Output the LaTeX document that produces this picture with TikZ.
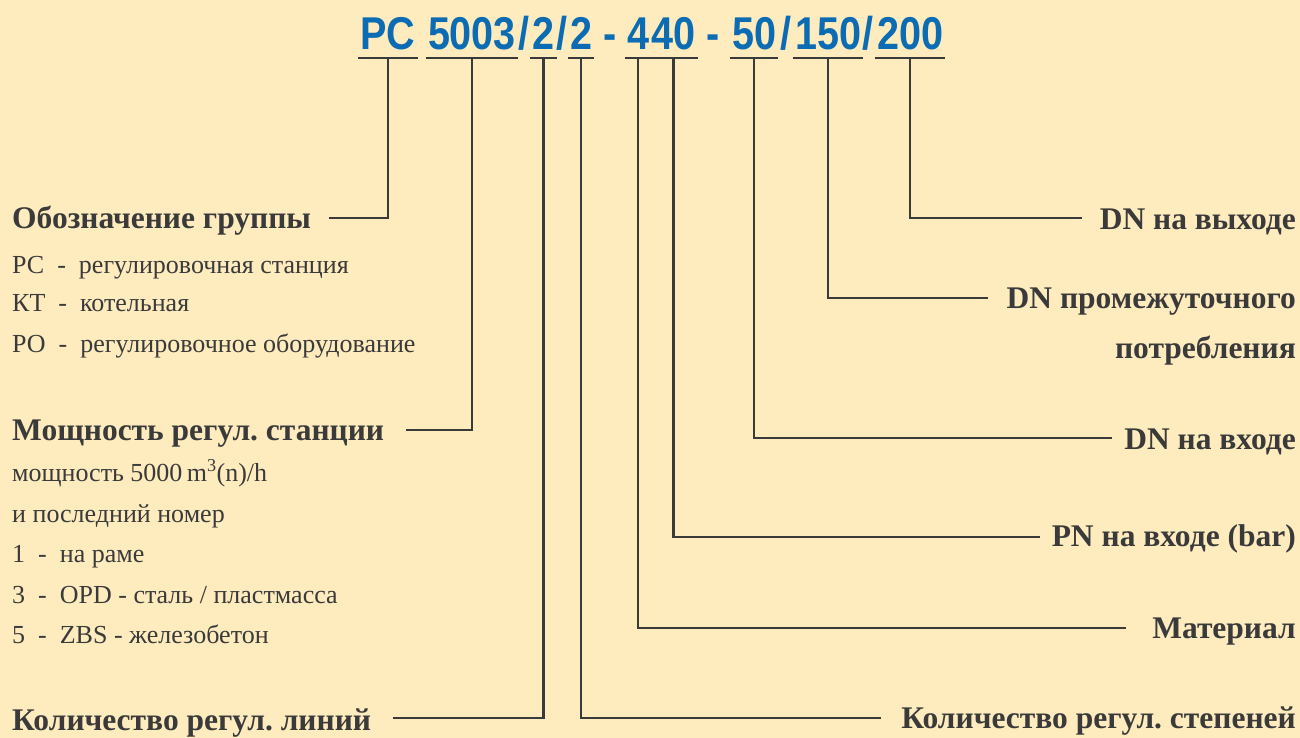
\documentclass[tikz,border=0pt]{standalone}
\usepackage{fontspec}
\setmainfont{Liberation Serif}
\newfontfamily\kodfont{Liberation Sans}
\usetikzlibrary{positioning}
\definecolor{sfondo}{HTML}{FEEBBE}
\definecolor{inchiostro}{HTML}{3A3A3A}
\definecolor{blu}{HTML}{0B6CB3}
\frenchspacing

\begin{document}
\begin{tikzpicture}[
  x=1pt, y=-1pt,
  filo/.style={draw=inchiostro, line width=2.6pt},
  codice/.style={anchor=base, inner sep=0pt, text=blu, xscale=0.86,
    font=\kodfont\bfseries\fontsize{46}{46}\selectfont},
  titolo/.style={inner sep=0pt, text=inchiostro,
    font=\bfseries\fontsize{31.5}{31.5}\selectfont},
  voce/.style={anchor=base west, inner sep=0pt, text=inchiostro,
    font=\fontsize{26}{26}\selectfont}
]

% Sfondo
\fill[sfondo] (0,0) rectangle (1300,738);
\useasboundingbox (0,0) rectangle (1300,738);

% Codice
\node[codice] (pc) at (388,50) {PC};
\node[codice] (pot) at (472,50) {5003};
\node[codice] (s1) at (524,50) {/};
\node[codice] (lin) at (543.5,50) {2};
\node[codice] (s2) at (562,50) {/};
\node[codice] (gra) at (581,50) {2};
\node[codice] (t1) at (610,50) {-};
\node[codice] (mat) at (638,50) {4};
\node[codice] (pn) at (673.5,50) {40};
\node[codice] (t2) at (713,50) {-};
\node[codice] (din) at (754,50) {50};
\node[codice] (s3) at (786,50) {/};
\node[codice] (dmed) at (828,50) {150};
\node[codice] (s4) at (868,50) {/};
\node[codice] (dout) at (910,50) {200};

% Sottolineature
\foreach \n in {pc,pot,lin,gra,mat,pn,din,dmed,dout}
  \draw[filo] ([xshift=-2pt,yshift=-8pt]\n.base west) -- ([xshift=2pt,yshift=-8pt]\n.base east);

% Etichette a sinistra
\node[titolo, anchor=base west] (grp) at (12,228) {Обозначение группы};
\node[voce] (grp1) at (12,273) {РС\ \ -\ \ регулировочная станция};
\node[voce] (grp2) at (12,311) {КТ\ \ -\ \ котельная};
\node[voce] (grp3) at (12,352) {РО\ \ -\ \ регулировочное оборудование};

\node[titolo, anchor=base west] (mos) at (12,440) {Мощность регул. станции};
\node[voce] (mos1) at (12,481) {мощность 5000\,m\textsuperscript{3}(n)/h};
\node[voce] (mos2) at (12,522) {и последний номер};
\node[voce] (mos3) at (12,562) {1\ \ -\ \ на раме};
\node[voce] (mos4) at (12,603) {3\ \ -\ \ OPD - сталь / пластмасса};
\node[voce] (mos5) at (12,643) {5\ \ -\ \ ZBS - железобетон};

\node[titolo, anchor=base west] (linee) at (12,730) {Количество регул. линий};

% Etichette a destra
\node[titolo, anchor=base east] (uscita) at (1296,229) {DN на выходе};
\node[titolo, anchor=base east] (medio) at (1296,308) {DN промежуточного};
\node[titolo, anchor=base east] (medio2) at (1296,358) {потребления};
\node[titolo, anchor=base east] (entrata) at (1296,449) {DN на входе};
\node[titolo, anchor=base east] (press) at (1296,546) {PN на входе (bar)};
\node[titolo, anchor=base east] (materiale) at (1296,638) {Материал};
\node[titolo, anchor=base east] (gradi) at (1296,728) {Количество регул. степеней};

% Collegamenti
\draw[filo] ([yshift=-8pt]pc.base) |- ([xshift=18pt,yshift=10pt]grp.base east);
\draw[filo] ([yshift=-8pt]pot.base) |- ([xshift=22pt,yshift=10pt]mos.base east);
\draw[filo] ([yshift=-8pt]lin.base) |- ([xshift=22pt,yshift=12pt]linee.base east);
\draw[filo] ([yshift=-8pt]gra.base) |- ([xshift=-20pt,yshift=10pt]gradi.base west);
\draw[filo] ([yshift=-8pt]mat.base) |- ([xshift=-26pt,yshift=10pt]materiale.base west);
\draw[filo] ([yshift=-8pt]pn.base) |- ([xshift=-12pt,yshift=9pt]press.base west);
\draw[filo] ([yshift=-8pt]din.base) |- ([xshift=-12pt,yshift=11pt]entrata.base west);
\draw[filo] ([yshift=-8pt]dmed.base) |- ([xshift=-18pt,yshift=10pt]medio.base west);
\draw[filo] ([yshift=-8pt]dout.base) |- ([xshift=-18pt,yshift=11pt]uscita.base west);

\end{tikzpicture}
\end{document}
